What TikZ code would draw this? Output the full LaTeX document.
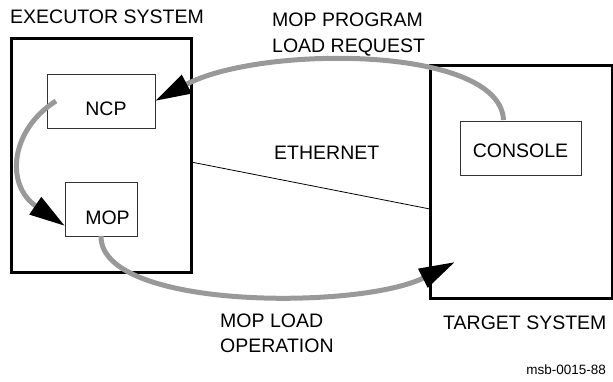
\documentclass[tikz,border=0pt]{standalone}
\usepackage{fontspec}
\setmainfont{Liberation Sans}
\usetikzlibrary{arrows.meta}
\definecolor{flowgray}{RGB}{153,153,153}
\begin{document}
\begin{tikzpicture}[x=1pt,y=-1pt,
  outerbox/.style={draw=black,line width=3pt,inner sep=0pt,outer sep=0pt},
  innerbox/.style={draw=black!80,line width=0.8pt,inner sep=0pt,outer sep=0pt},
  lbl/.style={inner sep=0pt,font=\fontsize{19.5}{24}\selectfont},
  small/.style={inner sep=0pt,font=\fontsize{13.5}{16}\selectfont},
  flow/.style={draw=flowgray,line width=5pt,-{Triangle[length=36pt,width=20pt,black]}},
  net/.style={draw=black,line width=0.8pt}]
\useasboundingbox (0,0) rectangle (613,381);
% boxes
\node[outerbox,minimum width=180pt,minimum height=234pt] (exec) at (101,155) {};
\node[outerbox,minimum width=182pt,minimum height=233pt] (target) at (521,181.5) {};
\node[innerbox,minimum width=108pt,minimum height=54pt] (ncp) at (101,101) {};
\node[innerbox,minimum width=72pt,minimum height=54pt] (mop) at (101,209) {};
\node[innerbox,minimum width=121pt,minimum height=54pt] (console) at (520.5,148) {};
% box texts
\node[lbl,anchor=base] (ncptxt) at (106,115) {NCP};
\node[lbl,anchor=base] (moptxt) at (107.5,224) {MOP};
\node[lbl,anchor=base] (consoletxt) at (520.5,157) {CONSOLE};
% labels
\node[lbl,anchor=base west] (execlbl) at (10,23) {EXECUTOR SYSTEM};
\node[lbl,anchor=base west,align=left] (reqlbl1) at (272,26) {MOP PROGRAM};
\node[lbl,anchor=base west] (reqlbl2) at (272,52) {LOAD REQUEST};
\node[lbl,anchor=base west] (ethlbl) at (274,159) {ETHERNET};
\node[lbl,anchor=base west] (oplbl1) at (220,327) {MOP LOAD};
\node[lbl,anchor=base west] (oplbl2) at (220,352) {OPERATION};
\node[lbl,anchor=base west] (targetlbl) at (443,329) {TARGET SYSTEM};
\node[small,anchor=base east] (idlbl) at (606,374) {msb-0015-88};
% ethernet
\draw[net] ([yshift=-7pt]exec.east) -- ([yshift=-27.5pt]target.west);
% flows
\coordinate (reqstart) at ([xshift=-17pt,yshift=1pt]console.north);
\draw[flow] (reqstart) .. controls (500,45) and (260,45) .. (ncp.east);
\coordinate (ncpstart) at ([xshift=-45pt]ncp.center);
\coordinate (mopin) at ([yshift=-17pt]mop.west);
\draw[flow] (ncpstart) .. controls (10,130) and (5,185) .. (mopin);
\coordinate (opend) at (455,262);
\draw[flow] (mop.south) .. controls (100,310) and (360,310) .. (opend);
\end{tikzpicture}
\end{document}
